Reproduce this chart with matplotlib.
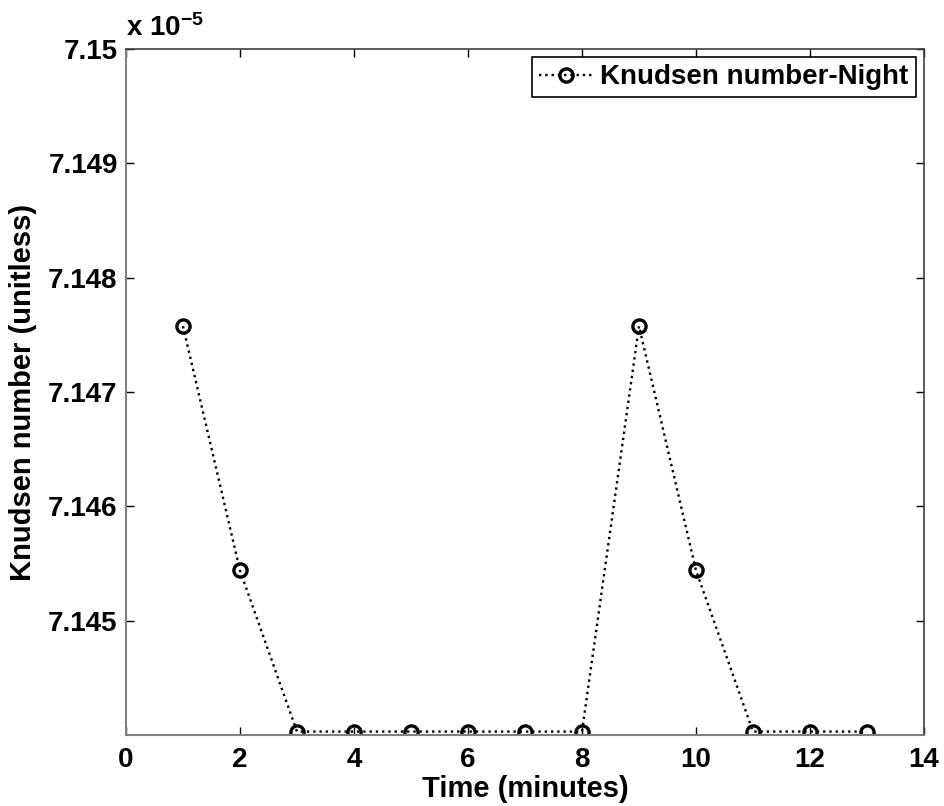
import numpy as np
import matplotlib
matplotlib.use('Agg')
import matplotlib.pyplot as plt

plt.rcParams['font.family'] = ['Liberation Sans', 'DejaVu Sans']
plt.rcParams['font.weight'] = 'bold'
plt.rcParams['mathtext.fontset'] = 'custom'
plt.rcParams['mathtext.rm'] = 'Liberation Sans:bold'
plt.rcParams['mathtext.default'] = 'rm'

# time (minutes) and Knudsen number at night
time_min = [1, 2, 3, 4, 5, 6, 7, 8, 9, 10, 11, 12, 13]
knudsen_night = [7.147576e-5, 7.145439e-5, 7.14403e-5, 7.14403e-5, 7.14403e-5,
                 7.14403e-5, 7.14403e-5, 7.14403e-5, 7.147576e-5, 7.145439e-5,
                 7.14403e-5, 7.14403e-5, 7.14403e-5]

scale = 1e-5
x_ticks = [0, 2, 4, 6, 8, 10, 12, 14]
y_ticks = [7.145, 7.146, 7.147, 7.148, 7.149, 7.15]
y_tick_labels = ['7.145', '7.146', '7.147', '7.148', '7.149', '7.15']

fig = plt.figure(figsize=(9.45, 8.06), dpi=100)
ax = fig.add_axes([0.1333, 0.0881, 0.8445, 0.8511])

y_plot = np.array(knudsen_night) / scale
ax.plot(time_min, y_plot, linestyle=':', color='black', linewidth=1.7,
        marker='o', markersize=9.5, markerfacecolor='none', markeredgewidth=2.4,
        markeredgecolor='black', label='Knudsen number-Night')

ax.set_xlim(0, 14)
ax.set_ylim(7.144, 7.15)
ax.set_xticks(x_ticks)
ax.set_xticklabels([str(x) for x in x_ticks])
ax.set_yticks(y_ticks)
ax.set_yticklabels(y_tick_labels)

ax.tick_params(direction='in', length=6, width=1, top=True, right=True,
               labelsize=20, pad=6)
ax.tick_params(axis='x', pad=9)
for side in ['left', 'bottom']:
    ax.spines[side].set_color('#808080')
    ax.spines[side].set_linewidth(1.5)
for side in ['top', 'right']:
    ax.spines[side].set_color('#404040')
    ax.spines[side].set_linewidth(1.2)

ax.set_xlabel('Time (minutes)', fontsize=21, fontweight='bold', labelpad=1)
ax.set_ylabel('Knudsen number (unitless)', fontsize=21, fontweight='bold', labelpad=8)

# exponent shown above the y axis
ax.text(0.0, 1.01, r'x 10$^{-5}$', transform=ax.transAxes, fontsize=20,
        fontweight='bold', ha='left', va='bottom')

leg = ax.legend(loc='upper right', prop={'size': 20, 'weight': 'bold'},
                fancybox=False, edgecolor='black', framealpha=1,
                handlelength=1.9, handletextpad=0.3, borderpad=0.25,
                borderaxespad=0.3)
leg.get_frame().set_linewidth(1.2)

fig.savefig('out.png', dpi=100)
